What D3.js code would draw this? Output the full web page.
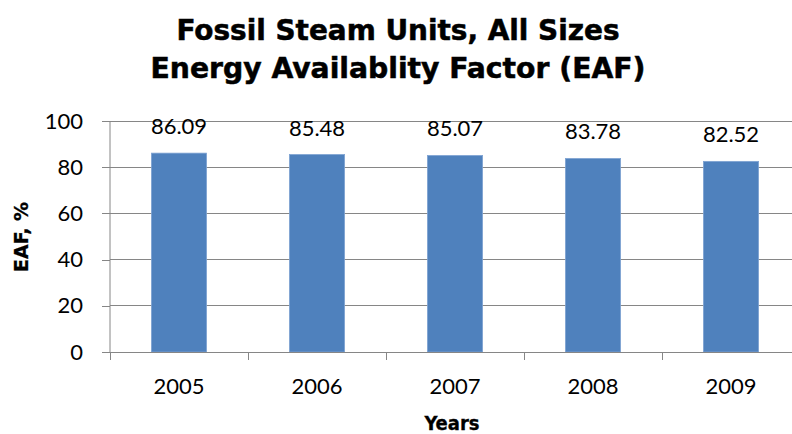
<!DOCTYPE html>
<html><head><meta charset="utf-8">
<script src="https://cdn.jsdelivr.net/npm/d3@7"></script>
<style>
html,body{margin:0;padding:0;background:#fff;}
svg{display:block;}
</style></head>
<body>
<svg id="chart" width="792" height="434"></svg>
<script>
const titleLines = ["Fossil Steam Units, All Sizes", "Energy Availablity Factor (EAF)"];
const categories = ["2005", "2006", "2007", "2008", "2009"];
const values = [86.09, 85.48, 85.07, 83.78, 82.52];
const yTicks = [0, 20, 40, 60, 80, 100];
const yAxisTitle = "EAF, %";
const xAxisTitle = "Years";

const svg = d3.select("#chart");
const W = 792, H = 434;
const m = {left: 110, right: -8, top: 121, bottom: 82};
const plotL = m.left, plotR = W - m.right, plotT = m.top, plotB = H - m.bottom;

const x = d3.scaleBand().domain(categories).range([plotL, plotR]).paddingInner(0.6).paddingOuter(0.3);
const y = d3.scaleLinear().domain([0, 100]).range([plotB, plotT]);

const gridColor = "#868686";
const tickFont = "Lato, 'Open Sans', sans-serif";
const boldFont = "'DejaVu Sans Condensed', 'DejaVu Sans', sans-serif";

// gridlines
svg.append("g").selectAll("line").data(yTicks.filter(d => d > 0)).join("line")
  .attr("x1", plotL).attr("x2", plotR)
  .attr("y1", d => y(d)).attr("y2", d => y(d))
  .attr("stroke", gridColor).attr("stroke-width", 1).attr("shape-rendering", "crispEdges");

// y axis
const yAxis = d3.axisLeft(y).tickValues(yTicks).tickSize(8).tickPadding(19).tickFormat(d3.format("d"));
const gy = svg.append("g").attr("transform", `translate(${plotL},0)`).call(yAxis);
gy.select(".domain").attr("stroke", gridColor).attr("d", `M0,${plotT}V${plotB}`);
gy.selectAll(".tick line").attr("stroke", gridColor).attr("shape-rendering", "crispEdges");
gy.selectAll(".tick text").attr("font-family", tickFont).attr("font-size", 22).attr("fill", "#000");

// bars
svg.append("g").selectAll("rect").data(values).join("rect")
  .attr("x", (d, i) => x(categories[i]))
  .attr("width", x.bandwidth())
  .attr("y", d => y(d))
  .attr("height", d => y(0) - y(d))
  .attr("fill", "#4F81BD")
  .attr("stroke", "#7FA3D3").attr("stroke-width", 0.8);

// x axis
const gx = svg.append("g").attr("transform", `translate(0,${plotB})`);
gx.append("line").attr("x1", plotL).attr("x2", plotR).attr("y1", 0).attr("y2", 0)
  .attr("stroke", gridColor).attr("shape-rendering", "crispEdges");
const step = x.step();
const boundaries = d3.range(categories.length + 1).map(i => plotL + i * step);
gx.selectAll("line.tk").data(boundaries).join("line").attr("class", "tk")
  .attr("x1", d => d).attr("x2", d => d).attr("y1", 0).attr("y2", 8)
  .attr("stroke", gridColor).attr("shape-rendering", "crispEdges");
gx.selectAll("text").data(categories).join("text")
  .attr("x", d => x(d) + x.bandwidth() / 2).attr("y", 42)
  .attr("text-anchor", "middle")
  .attr("font-family", tickFont).attr("font-size", 22).attr("fill", "#000")
  .text(d => d);

// data labels
svg.append("g").selectAll("text").data(values).join("text")
  .attr("x", (d, i) => x(categories[i]) + x.bandwidth() / 2)
  .attr("y", d => y(d) - 19)
  .attr("text-anchor", "middle")
  .attr("font-family", tickFont).attr("font-size", 22).attr("fill", "#000")
  .text(d => d.toFixed(2));

// titles
const tg = svg.append("g");
const titleBaselines = [40, 78];
const titleWidths = [443, 495];
titleLines.forEach((t, i) => {
  tg.append("text").attr("x", 398).attr("y", titleBaselines[i])
    .attr("text-anchor", "middle")
    .attr("font-family", boldFont).attr("font-weight", "bold").attr("font-size", 29)
    .attr("textLength", titleWidths[i]).attr("lengthAdjust", "spacingAndGlyphs")
    .attr("fill", "#000").attr("stroke", "#000").attr("stroke-width", 0.5).text(t);
});

svg.append("text").attr("x", (plotL + plotR) / 2 - 3).attr("y", 430)
  .attr("text-anchor", "middle").attr("font-family", boldFont).attr("font-weight", "bold")
  .attr("font-size", 20).attr("fill", "#000").attr("stroke", "#000").attr("stroke-width", 0.3).text(xAxisTitle);

svg.append("text").attr("transform", `translate(28,237) rotate(-90)`)
  .attr("text-anchor", "middle").attr("font-family", boldFont).attr("font-weight", "bold")
  .attr("font-size", 20).attr("textLength", 70).attr("lengthAdjust", "spacingAndGlyphs")
  .attr("fill", "#000").attr("stroke", "#000").attr("stroke-width", 0.3).text(yAxisTitle);
</script>
</body></html>
